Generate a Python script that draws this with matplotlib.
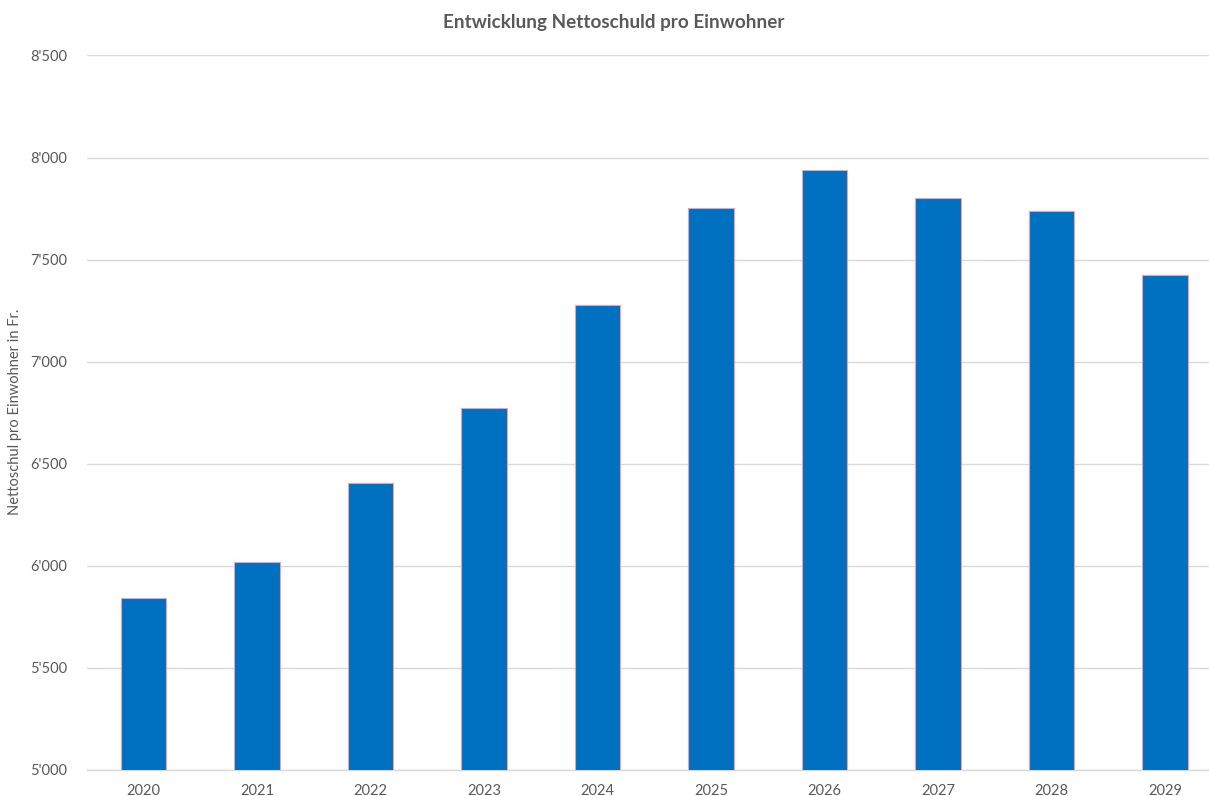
import matplotlib.pyplot as plt
from matplotlib.ticker import FuncFormatter

years = ["2020", "2021", "2022", "2023", "2024", "2025", "2026", "2027", "2028", "2029"]
nettoschuld = [5842, 6018, 6408, 6772, 7276, 7754, 7937, 7803, 7738, 7423]

plt.rcParams['font.family'] = ['Lato', 'DejaVu Sans']
grey = "#595959"

fig = plt.figure(figsize=(12.09, 7.96), dpi=100)
ax = fig.add_axes([0.0718, 0.0327, 1 - 0.0718, 0.9303 - 0.0327])

x = range(len(years))
ax.bar(x, nettoschuld, width=0.4, color="#0070C0", edgecolor="#F4A0A0", linewidth=0.8, zorder=3)

ax.set_ylim(5000, 8500)
ax.set_yticks(range(5000, 8501, 500))
ax.yaxis.set_major_formatter(FuncFormatter(lambda v, p: "{:,}".format(int(v)).replace(",", "'")))
ax.set_xlim(-0.5, 9.388)
ax.set_xticks(list(x))
ax.set_xticklabels(years)

ax.grid(axis="y", color="#d9d9d9", linewidth=1, zorder=0)
for s in ["top", "right", "left"]:
    ax.spines[s].set_visible(False)
ax.spines["bottom"].set_color("#d9d9d9")
ax.spines["bottom"].set_linewidth(1)
ax.tick_params(length=0, colors=grey, labelsize=10.5)
ax.tick_params(axis="y", pad=14)
ax.tick_params(axis="x", pad=10)

fig.text(15 / 1209, 0.4824, "Nettoschul pro Einwohner in Fr.", rotation=90, ha="center", va="center",
         color=grey, fontsize=10.5)
fig.text(0.508, 0.972, "Entwicklung Nettoschuld pro Einwohner", ha="center", va="center",
         color=grey, fontsize=13.6, fontweight="bold")

fig.savefig("out.png", dpi=100)
